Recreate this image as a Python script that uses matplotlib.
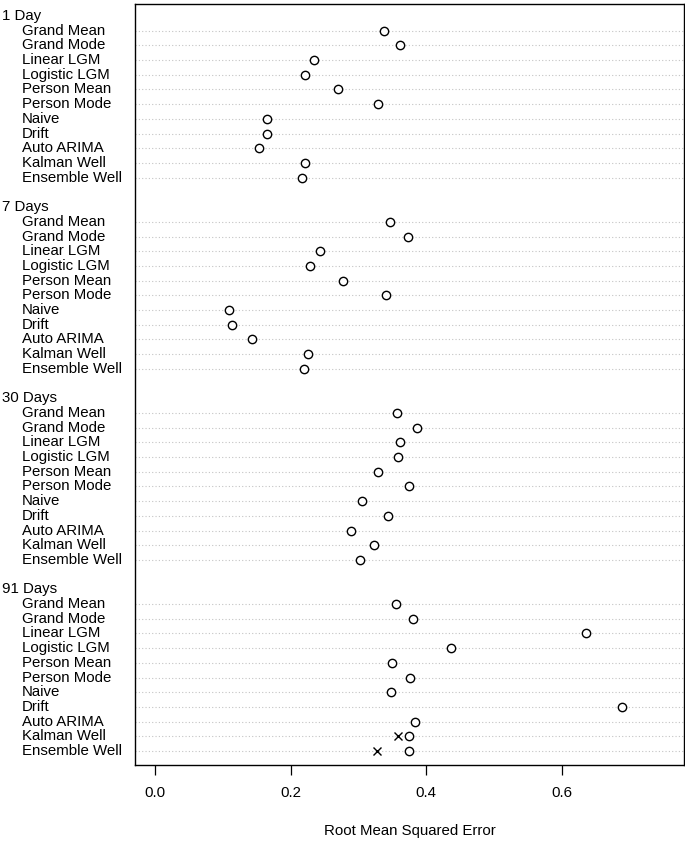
import numpy as np
import matplotlib
matplotlib.use("Agg")
import matplotlib.pyplot as plt
from matplotlib.transforms import blended_transform_factory

plt.rcParams['font.family'] = ['Liberation Sans', 'DejaVu Sans']

horizons = ["1 Day", "7 Days", "30 Days", "91 Days"]
models = ["Grand Mean", "Grand Mode", "Linear LGM", "Logistic LGM", "Person Mean",
          "Person Mode", "Naive", "Drift", "Auto ARIMA", "Kalman Well", "Ensemble Well"]

rmse_1 = [0.338, 0.362, 0.235, 0.222, 0.270, 0.329, 0.165, 0.165, 0.153, 0.221, 0.217]
rmse_7 = [0.347, 0.373, 0.243, 0.229, 0.277, 0.340, 0.109, 0.113, 0.143, 0.226, 0.220]
rmse_30 = [0.357, 0.386, 0.361, 0.358, 0.329, 0.374, 0.305, 0.343, 0.289, 0.323, 0.302]
rmse_91 = [0.356, 0.380, 0.636, 0.437, 0.350, 0.376, 0.348, 0.689, 0.383, 0.374, 0.374]
# second marker (x) only shown for the well models at 91 days
alt_91 = [np.nan] * 9 + [0.359, 0.327]

groups = [rmse_1, rmse_7, rmse_30, rmse_91]

W, H = 685, 842
fig = plt.figure(figsize=(W / 100, H / 100), dpi=100)
ax = fig.add_axes([134.5 / W, 1 - 765 / H, (684 - 134.5) / W, (765 - 3.5) / H])

lab_tr = blended_transform_factory(fig.transFigure, ax.transData)
fs = 10.8

for g, (name, vals) in enumerate(zip(horizons, groups)):
    base = g * 13
    ax.text(1.5 / W, base, name, transform=lab_tr, ha="left", va="center", fontsize=fs)
    ys = base + 1 + np.arange(len(models))
    for y, m in zip(ys, models):
        ax.axhline(y, color="#c4c4c4", lw=0.8, ls=(0, (1, 2)), zorder=1)
        ax.text(22 / W, y, m, transform=lab_tr, ha="left", va="center", fontsize=fs)
    ax.plot(vals, ys, ls="none", marker="o", ms=6, mfc="white", mec="black",
            mew=1.0, zorder=3)
    if g == 3:
        ax.plot(alt_91, ys, ls="none", marker="x", ms=5.5, mec="black",
                mew=1.0, zorder=3)

ax.set_xlim(-0.03, 0.78)
ax.set_ylim(50.95, -0.85)
ax.set_xticks([0.0, 0.2, 0.4, 0.6])
ax.set_xticklabels(["0.0", "0.2", "0.4", "0.6"], fontsize=fs)
ax.set_yticks([])
ax.tick_params(axis="x", direction="out", length=7, width=0.9, pad=8)
for s in ax.spines.values():
    s.set_linewidth(1.0)

fig.text(410 / W, 1 - 831.5 / H, "Root Mean Squared Error", ha="center",
         va="center", fontsize=fs)

fig.savefig("out.png", dpi=100)
